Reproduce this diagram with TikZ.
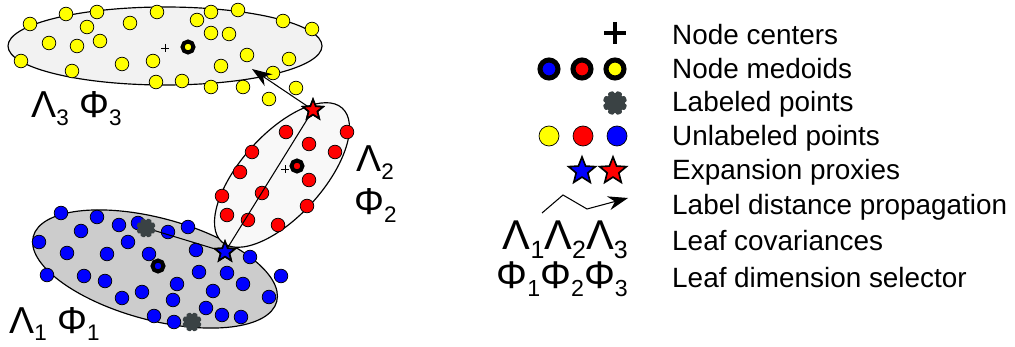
\documentclass[tikz,border=0pt]{standalone}
\usepackage{fontspec}
\setmainfont{Liberation Sans}
\usetikzlibrary{arrows.meta, shapes.geometric}
\definecolor{ptyellow}{RGB}{255,255,0}
\definecolor{ptred}{RGB}{255,0,0}
\definecolor{ptblue}{RGB}{0,0,255}
\definecolor{labgray}{RGB}{58,66,68}
\definecolor{leafgray}{RGB}{204,204,204}
\definecolor{leaflight}{RGB}{242,242,242}
\definecolor{leafpale}{RGB}{248,248,248}
\newcommand{\gsub}[1]{\raisebox{-0.2em}{\scalebox{0.6}{#1}}}

\begin{document}
\begin{tikzpicture}[x=0.03cm, y=-0.03cm, >=Stealth,
  leaf/.style={draw=black, line width=1pt},
  unlab/.style={draw=black, line width=0.6pt},
  medoid/.style={draw=black, line width=3.4pt},
  proxy/.style={star, star points=5, star point ratio=2.3, draw=black,
    line width=1.4pt, inner sep=0pt, minimum size=18pt},
  propline/.style={draw=black, line width=0.9pt},
  proparrow/.style={-{Stealth[length=17pt, width=12pt, inset=5.5pt]}},
  legtext/.style={anchor=base west, inner sep=0pt, font=\fontsize{23.8}{27}\selectfont},
  greek/.style={inner sep=0pt, font=\fontsize{32}{36}\selectfont},
  pics/labgear/.style={code={
    \fill[labgray] plot[domain=0:360, samples=121, smooth cycle]
      (\x:{#1*(1-0.2*abs(cos(4*\x))^8)});}}]

  \useasboundingbox (0,0) rectangle (1015,347);

  % --- leaf regions ---
  \filldraw[leaf, fill=leafgray, rotate around={-15:(155,269)}]
    (155,269) ellipse [x radius=126, y radius=51];
  \filldraw[leaf, fill=leafpale, rotate around={48:(282,175)}]
    (282,175) ellipse [x radius=90, y radius=41];
  \filldraw[leaf, fill=leaflight] (165,46) ellipse [x radius=157, y radius=39];

  % --- unlabeled points ---
  \foreach \px/\py in {30/24, 66/14, 97/12, 157/12, 197/20, 211/12, 238/10,
      283/21, 312/29, 87/27, 130/23, 211/33, 229/34, 49/43, 77/46, 100/41,
      247/55, 289/59, 21/61, 72/71, 122/64, 153/61, 221/66, 273/73, 156/82,
      182/81, 211/87, 243/87, 296/88, 269/99}
    \filldraw[unlab, fill=ptyellow] (\px,\py) circle (6.8);
  \foreach \px/\py in {286/132, 347/132, 309/144, 252/152, 335/152, 240/172,
      309/180, 222/196, 262/193, 307/206, 227/215, 248/220, 278/225}
    \filldraw[unlab, fill=ptred] (\px,\py) circle (6.8);
  \foreach \px/\py in {61/213, 97/217, 119/225, 138/223, 168/232, 188/227,
      81/231, 128/242, 39/242, 67/253, 107/254, 149/254, 196/250, 250/257,
      47/275, 84/276, 105/281, 199/272, 227/273, 281/276, 177/284, 243/284,
      142/292, 213/291, 122/298, 173/300, 269/297, 206/308, 154/316, 222/315,
      174/322, 241/317}
    \filldraw[unlab, fill=ptblue] (\px,\py) circle (6.8);

  % --- node centers and medoids ---
  \draw[line width=0.8pt] (161,48) -- (169,48) (165,44) -- (165,52);
  \draw[line width=0.8pt] (281,169) -- (289,169) (285,165) -- (285,173);
  \filldraw[medoid, fill=ptyellow] (188,47) circle (5.5);
  \filldraw[medoid, fill=ptred] (297,166) circle (5.5);
  \filldraw[medoid, fill=ptblue] (158,266) circle (5.5);

  % --- label distance propagation ---
  \coordinate (lab1) at (146,228);
  \coordinate (lab2) at (192,322);
  \coordinate (ytip) at (252,69);
  \node[proxy, fill=ptblue] (bstar) at (225,252) {};
  \node[proxy, fill=ptred] (rstar) at (313,110) {};
  \draw[propline] (lab1) -- (bstar.center);
  \draw[propline] (bstar.center) -- (rstar.center);
  \draw[propline, proparrow] (rstar.center) -- (ytip);
  \pic at (lab1) {labgear=9.5};
  \pic at (lab2) {labgear=9.5};
  \node[proxy, fill=ptblue] at (bstar) {};
  \node[proxy, fill=ptred] at (rstar) {};

  % --- leaf labels ---
  \node[greek, anchor=base west] (lbl3) at (31,118) {Λ\gsub{3} Φ\gsub{3}};
  \node[greek, anchor=base west] (lbl2a) at (356,172) {Λ\gsub{2}};
  \node[greek, anchor=base west] (lbl2b) at (354,215) {Φ\gsub{2}};
  \node[greek, anchor=base west] (lbl1) at (9,333) {Λ\gsub{1} Φ\gsub{1}};

  % --- legend ---
  \draw[line width=3.6pt] (604,33) -- (626,33) (615,22) -- (615,44);
  \foreach \lx/\lc in {549/ptblue, 582/ptred, 615/ptyellow}
    \filldraw[draw=black, line width=4.3pt, fill=\lc] (\lx,69) circle (9);
  \pic at (615,103) {labgear=12};
  \foreach \lx/\lc in {549/ptyellow, 583/ptred, 617/ptblue}
    \filldraw[unlab, fill=\lc] (\lx,136) circle (10);
  \node[proxy, fill=ptblue, minimum size=24pt] (legb) at (582,171) {};
  \node[proxy, fill=ptred, minimum size=24pt] (legr) at (613,171) {};
  \coordinate (pa) at (542,213);
  \coordinate (pb) at (563,195);
  \coordinate (pc) at (587,209);
  \coordinate (pd) at (628,198);
  \draw[propline, proparrow] (pa) -- (pb) -- (pc) -- (pd);
  \node[greek, anchor=base east, font=\fontsize{35.5}{36}\selectfont,
    text depth=0.1em] (legL) at (628,250) {Λ\gsub{1}Λ\gsub{2}Λ\gsub{3}};
  \node[greek, anchor=base east, font=\fontsize{33}{36}\selectfont,
    text height=0.72em] (legP) at (628,289) {Φ\gsub{1}Φ\gsub{2}Φ\gsub{3}};

  \node[legtext] at (672,45) {Node centers};
  \node[legtext] at (672,79) {Node medoids};
  \node[legtext] at (672,112) {Labeled points};
  \node[legtext] at (672,146) {Unlabeled points};
  \node[legtext] at (672,180) {Expansion proxies};
  \node[legtext] at (672,215) {Label distance propagation};
  \node[legtext] at (672,251) {Leaf covariances};
  \node[legtext] at (672,287) {Leaf dimension selector};

\end{tikzpicture}
\end{document}
